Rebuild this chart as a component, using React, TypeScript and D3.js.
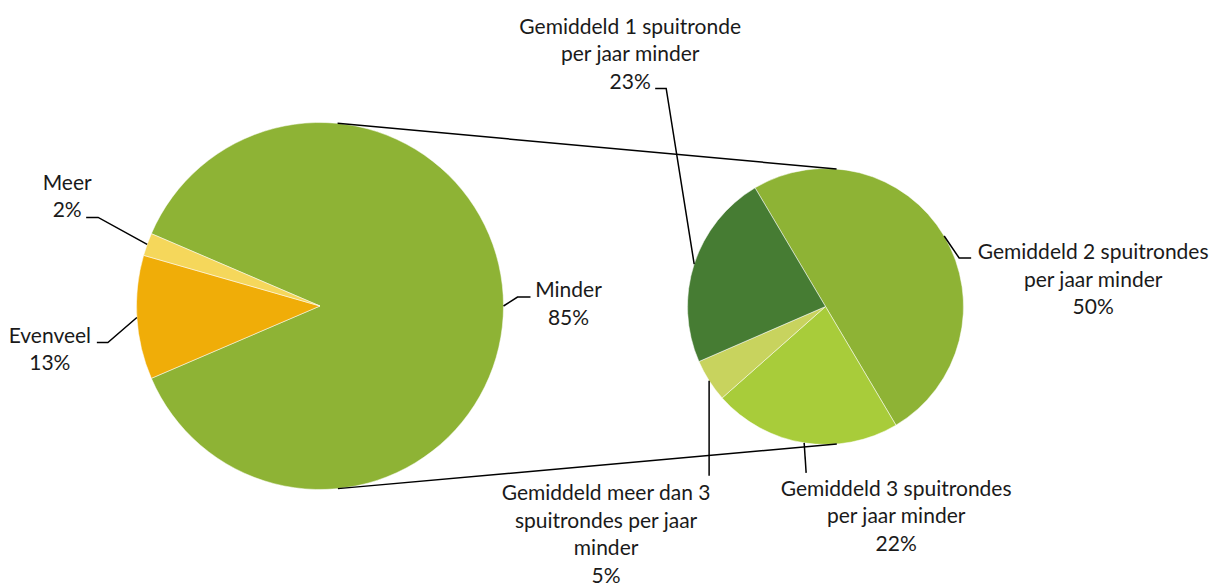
import React from "react";
import * as d3 from "d3";

// main pie (slice shares as drawn; labels carry the printed percentages)
const mainCategories = ["Minder", "Evenveel", "Meer"];
const mainShares = [87.1, 10.9, 2.0];
const mainPctLabels = ["85%", "13%", "2%"];
const mainColors = ["#8eb335", "#f0ad08", "#f5d75b"];

// secondary pie: breakdown of "Minder"
const subCategories = [
  ["Gemiddeld 2 spuitrondes", "per jaar minder"],
  ["Gemiddeld 3 spuitrondes", "per jaar minder"],
  ["Gemiddeld meer dan 3", "spuitrondes per jaar", "minder"],
  ["Gemiddeld 1 spuitronde", "per jaar minder"],
];
const subValues = [50, 22, 5, 23];
const subPctLabels = ["50%", "22%", "5%", "23%"];
const subColors = ["#8eb335", "#a8cc3a", "#c8d35e", "#467c33"];

const width = 1211,
  height = 586;

const rad = (deg: number) => (deg * Math.PI) / 180;

// label layout: leader elbow/end + text centre & first baseline, relative to slice edge point
const mainLayout = [
  { elbow: [14, -9], end: [27, -9], text: [65, -9] },
  { elbow: [-29, 25], end: [-40, 25], text: [-87, 25] },
  { elbow: [-49, -27], end: [-61, -27], text: [-80, -54.5] },
];
const subLayout = [
  { elbow: [15, 22], end: [27, 22], text: [149, 23] },
  { elbow: [2, 30], end: [2, 30], text: [92, 53] },
  { elbow: [0, 95], end: [0, 95], text: [-103, 119.5] },
  { elbow: [-28, -175.6], end: [-39, -175.6], text: [-64, -230.5] },
];

const lineGap = 27.5;

const PieLabel = ({ edge, lay, lines }) => {
  const [ex, ey] = edge;
  const pts = [
    [ex, ey],
    [ex + lay.elbow[0], ey + lay.elbow[1]],
    [ex + lay.end[0], ey + lay.end[1]],
  ];
  const tx = ex + lay.text[0];
  const firstBase = ey + lay.text[1];
  return (
    <g>
      <path
        d={d3.line()(pts as [number, number][]) || ""}
        fill="none"
        stroke="#000"
        strokeWidth={1.5}
      />
      <text
        x={tx}
        y={firstBase}
        textAnchor="middle"
        fontFamily="Lato, 'Noto Sans', sans-serif"
        fontSize={21}
        fill="#1a1a1a"
      >
        {lines.map((l, i) => (
          <tspan key={i} x={tx} y={firstBase + i * lineGap}>
            {l}
          </tspan>
        ))}
      </text>
    </g>
  );
};

const App: React.FC = () => {
  const main = { cx: 320, cy: 306, r: 183.5 };
  const sub = { cx: 825.5, cy: 306.5, r: 138 };

  const mainTotal = d3.sum(mainShares);
  const mainStart = Math.PI / 2 - (mainShares[0] / mainTotal) * Math.PI;
  const mainArcs = d3
    .pie<number>()
    .sort(null)
    .startAngle(mainStart)
    .endAngle(mainStart + 2 * Math.PI)(mainShares);

  const subStart = rad(-30.7);
  const subArcs = d3
    .pie<number>()
    .sort(null)
    .startAngle(subStart)
    .endAngle(subStart + 2 * Math.PI)(subValues);

  const mainArc = d3.arc<d3.PieArcDatum<number>>().innerRadius(0).outerRadius(main.r);
  const subArc = d3.arc<d3.PieArcDatum<number>>().innerRadius(0).outerRadius(sub.r);

  const onCircle = (c, a: number): [number, number] => [
    c.cx + c.r * Math.sin(a),
    c.cy - c.r * Math.cos(a),
  ];

  const connectors = [
    [onCircle(main, rad(5.5)), onCircle(sub, rad(4.6))],
    [onCircle(main, rad(174.4)), onCircle(sub, rad(175.3))],
  ];

  return (
    <svg
      width={width}
      height={height}
      style={{ position: "absolute", left: 0, top: 0, background: "#fff" }}
    >
      <g transform={`translate(${main.cx},${main.cy})`}>
        {mainArcs.map((a, i) => (
          <path key={i} d={mainArc(a) || ""} fill={mainColors[i]} stroke="#fff" strokeWidth={0.5} />
        ))}
      </g>
      <g transform={`translate(${sub.cx},${sub.cy})`}>
        {subArcs.map((a, i) => (
          <path key={i} d={subArc(a) || ""} fill={subColors[i]} stroke="#fff" strokeWidth={0.5} />
        ))}
      </g>
      {connectors.map((c, i) => (
        <line
          key={i}
          x1={c[0][0]}
          y1={c[0][1]}
          x2={c[1][0]}
          y2={c[1][1]}
          stroke="#000"
          strokeWidth={1.5}
        />
      ))}
      {mainArcs.map((a, i) => (
        <PieLabel
          key={"m" + i}
          edge={onCircle(main, (a.startAngle + a.endAngle) / 2)}
          lay={mainLayout[i]}
          lines={[mainCategories[i], mainPctLabels[i]]}
        />
      ))}
      {subArcs.map((a, i) => (
        <PieLabel
          key={"s" + i}
          edge={onCircle(sub, (a.startAngle + a.endAngle) / 2)}
          lay={subLayout[i]}
          lines={[...subCategories[i], subPctLabels[i]]}
        />
      ))}
    </svg>
  );
};

export default App;
